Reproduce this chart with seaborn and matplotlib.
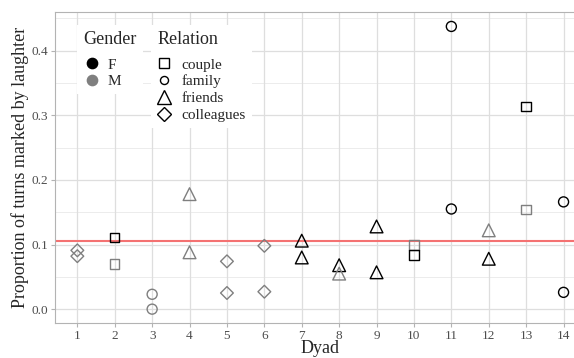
import pandas as pd
import seaborn as sns
import matplotlib.pyplot as plt
from matplotlib.lines import Line2D

## Values
dyad = [1, 1, 2, 2, 3, 3, 4, 4, 5, 5, 6, 6, 7, 7,
        8, 8, 9, 9, 10, 10, 11, 11, 12, 12, 13, 13, 14, 14]
gender = ['M', 'M', 'F', 'M', 'M', 'M', 'M', 'M', 'M', 'M', 'M', 'M', 'F', 'F',
          'F', 'M', 'F', 'F', 'M', 'F', 'F', 'F', 'M', 'F', 'M', 'F', 'F', 'F']
relation = ['colleagues', 'colleagues', 'couple', 'couple', 'family', 'family',
            'friends', 'friends', 'colleagues', 'colleagues', 'colleagues', 'colleagues',
            'friends', 'friends', 'friends', 'friends', 'friends', 'friends',
            'couple', 'couple', 'family', 'family', 'friends', 'friends',
            'couple', 'couple', 'family', 'family']
proportion = [0.091, 0.082, 0.111, 0.070, 0.023, 0.000, 0.178, 0.088,
              0.074, 0.025, 0.098, 0.027, 0.106, 0.080, 0.068, 0.055,
              0.128, 0.057, 0.099, 0.084, 0.155, 0.4375, 0.122, 0.078,
              0.154, 0.314, 0.166, 0.026]
mean_line = 0.106

gender_order = ['F', 'M']
relation_order = ['couple', 'family', 'friends', 'colleagues']
x_ticks = list(range(1, 15))
y_ticks = [0.0, 0.1, 0.2, 0.3, 0.4]
y_minor = [0.05, 0.15, 0.25, 0.35, 0.45]

df = pd.DataFrame({'Dyad': dyad, 'Gender': gender,
                   'Relation': relation, 'Proportion': proportion})

## Style
sns.set_theme(style='white')
plt.rcParams['font.family'] = ['Liberation Serif', 'DejaVu Serif']
grey = '#7f7f7f'
palette = {'F': 'black', 'M': grey}
markers = {'couple': 's', 'family': 'o', 'friends': '^', 'colleagues': 'D'}
sizes = {'couple': 46, 'family': 52, 'friends': 84, 'colleagues': 42}

fig = plt.figure(figsize=(5.74, 3.58), dpi=100)
# panel runs a bit past the right edge, like the cropped original
ax = fig.add_axes([54.9 / 574, 34.7 / 358, 531.1 / 574, 311 / 358])

# grid by hand so minor lines are lighter
for y in y_minor:
    ax.axhline(y, color='#ececec', lw=0.7, zorder=0)
for y in y_ticks:
    ax.axhline(y, color='#dedede', lw=0.9, zorder=0)
for x in x_ticks:
    ax.axvline(x, color='#dedede', lw=0.9, zorder=0)

ax.axhline(mean_line, color='#f47272', lw=1.5, zorder=1)

sns.scatterplot(data=df, x='Dyad', y='Proportion', hue='Gender', hue_order=gender_order,
                palette=palette, style='Relation', style_order=relation_order,
                markers=markers, size='Relation', sizes=sizes, size_order=relation_order,
                legend=False, linewidth=1.0, zorder=3, ax=ax)
pts = ax.collections[-1]
pts.set_edgecolors(pts.get_facecolors())
pts.set_facecolors('none')

ax.set_xlim(0.4, 14.6)
ax.set_ylim(-0.0219, 0.4594)
ax.set_xticks(x_ticks)
ax.set_xticklabels([str(t) for t in x_ticks])
ax.set_yticks(y_ticks)
ax.set_yticklabels([f'{t:.1f}' for t in y_ticks])
ax.tick_params(axis='both', which='major', length=3, width=0.8, color='#b3b3b3',
               labelsize=9.5, labelcolor='#4d4d4d', pad=2, left=True, bottom=True)
for sp in ax.spines.values():
    sp.set_color('#b3b3b3')
    sp.set_linewidth(0.8)

ax.set_xlabel('Dyad', fontsize=13)
ax.set_ylabel('Proportion of turns marked by laughter', fontsize=13)
ax.xaxis.set_label_coords(0.5, -0.055)
ax.yaxis.set_label_coords(-0.048, 0.5)

## Legends
g_handles = [Line2D([], [], ls='', marker='o', ms=7.4, mfc=palette[g], mec=palette[g])
             for g in gender_order]
r_sizes = {'couple': 7.0, 'family': 5.8, 'friends': 9.5, 'colleagues': 7.4}
r_handles = [Line2D([], [], ls='', marker=markers[r], ms=r_sizes[r], mfc='none',
                    mec='black', mew=1.0) for r in relation_order]

common = dict(loc='upper left', bbox_transform=fig.transFigure, frameon=True,
              fancybox=False, edgecolor='none', facecolor='white', framealpha=1,
              fontsize=11, title_fontsize=13, alignment='left', borderpad=0.4,
              labelspacing=0.2, borderaxespad=0)
leg1 = ax.legend(g_handles, gender_order, title='Gender',
                 bbox_to_anchor=(77 / 574, 1 - 25 / 358),
                 handlelength=1.1, handletextpad=0.5, **common)
ax.add_artist(leg1)
leg2 = ax.legend(r_handles, relation_order, title='Relation',
                 bbox_to_anchor=(151 / 574, 1 - 25 / 358),
                 handlelength=0.9, handletextpad=0.7, **common)
# more room between legend title and keys
for leg in (leg1, leg2):
    leg._legend_box.sep = 7

fig.savefig('out.png', dpi=100)
